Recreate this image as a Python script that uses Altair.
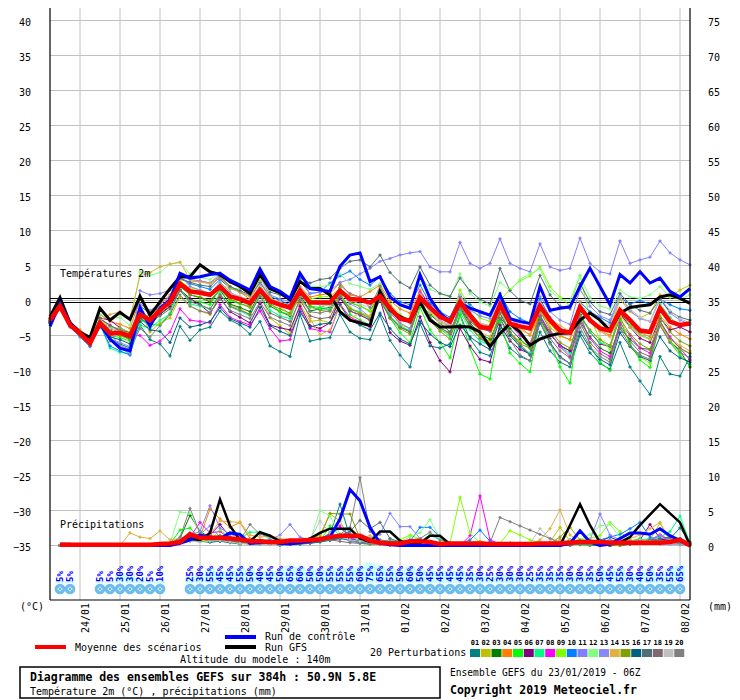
import altair as alt
import pandas as pd

# ------------------------------------------------------------------ data
DATE_LABELS = ["24/01", "25/01", "26/01", "27/01", "28/01", "29/01", "30/01", "31/01",
               "01/02", "02/02", "03/02", "04/02", "05/02", "06/02", "07/02", "08/02"]
DATE_HOURS = [18 + 24 * n for n in range(len(DATE_LABELS))]
Y_TICKS = list(range(-35, 45, 5))
PRECIP_BASE = -35  # 0 mm sits on the -35 degC line, right axis = left + 35

PERT_NAMES = ["01", "02", "03", "04", "05", "06", "07", "08", "09", "10",
              "11", "12", "13", "14", "15", "16", "17", "18", "19", "20"]
PERT_COLORS = ["#008080", "#c0c000", "#008000", "#ff8000", "#00ff00", "#800080", "#00ff80", "#ff00ff",
               "#80ff00", "#0080ff", "#8080ff", "#80ff80", "#8888f8", "#e0b040", "#80a000", "#006080",
               "#507078", "#806870", "#c0c0c0", "#808080"]

# temperatures 2m (degC), every 6 h from 23/01 06Z (65 values)
MEAN_T = [-2.8, -0.8, -3.5, -4.7, -6.1, -3.2, -4.7, -4.6, -5.1, -2.0, -2.8, -1.4, -0.2,
          2.4, 1.3, 1.1, 0.8, 2.0, 0.6, 0.2, -0.4, 1.5, -0.1, -0.6, -1.0, 1.4, -0.3, -0.3, -0.3,
          1.4, 0.2, 0.1, -0.3, 0.6, -1.1, -2.6, -2.9, 0.4, -1.0, -2.3, -3.0, -0.2, -2.1, -3.8, -4.0,
          -0.6, -3.3, -3.7, -4.0, -0.8, -2.8, -4.3, -4.6, -1.0, -2.8, -4.0, -4.3, -1.4, -2.8, -4.3, -4.5,
          -1.1, -3.0, -3.5, -3.3]
CTRL_T = [-3.7, -0.4, -3.2, -4.7, -6.1, -3.3, -5.5, -6.8, -7.2, -1.0, -3.7, -1.1, 0.1,
          3.9, 3.2, 3.4, 3.7, 3.9, 2.9, 2.2, 1.5, 4.5, 2.0, 1.3, 0.3, 3.9, 1.7, 1.5, 1.3,
          4.9, 6.5, 6.8, 2.7, 3.4, 0.5, -0.6, -1.1, 3.7, 0.3, -1.8, -3.0, -0.4, -1.1, -1.6, -2.1,
          0.8, -2.6, -3.0, -3.3, 2.0, -1.4, -1.1, -0.9, 2.0, 4.6, 2.0, -0.6, 3.7, 2.5, 4.1, 2.5,
          3.2, 1.3, 0.5, 1.7]
GFS_T = [-2.3, 0.4, -3.2, -4.5, -5.3, -1.1, -2.8, -1.7, -2.7, 0.6, -2.1, -0.2, 1.7,
         3.4, 3.4, 5.1, 4.1, 3.7, 2.7, 2.0, 1.0, 3.7, 1.7, 1.1, 0.1, 2.7, 1.7, 1.7, 0.8,
         -1.6, -2.8, -3.2, -3.6, 1.3, -1.4, -2.3, -3.0, -0.2, -2.8, -3.8, -3.8, -3.7, -3.8, -4.5, -6.6,
         -4.7, -3.3, -4.5, -6.4, -5.5, -5.0, -4.7, -4.6, -2.8, -1.8, -2.8, -4.3, -1.8, -1.0, -0.8, -0.6,
         0.5, 0.8, 0.3, -0.4]
PERT_T = {
    "01": [-3.2, -0.9, -3.6, -5.0, -6.5, -3.8, -5.5, -6.2, -6.8, -3.5, -5.6, -6.2, -7.9, -3.7, -5.7, -4.2, -3.8,
           -1.5, -2.8, -3.5, -4.8, -3.0, -6.5, -7.3, -8.0, -2.0, -5.8, -5.5, -5.3, -2.0, -4.5, -5.4, -5.6,
           -2.1, -5.7, -7.8, -9.5, -3.3, -6.5, -6.8, -6.2, -2.0, -5.5, -7.4, -7.9, -4.0, -6.8, -8.0, -8.6,
           -4.5, -7.2, -8.8, -9.5, -5.0, -7.5, -9.0, -9.8, -6.0, -9.5, -11.5, -13.4, -8.0, -10.5, -10.8, -8.0],
    "02": [-2.6, -0.6, -3.3, -4.5, -5.9, -2.8, -4.0, -4.2, -4.8, -1.5, -4.5, -3.2, -2.5, 0.5, -0.8, -1.5, -2.0,
           0.8, -0.6, -1.2, -2.0, 0.9, -2.5, -3.6, -4.8, -0.5, -3.0, -2.8, -3.2, 0.8, -1.0, -1.8, -2.2,
           1.2, -1.6, -3.4, -4.0, 0.2, -2.5, -4.2, -4.8, -1.0, -3.6, -5.2, -5.8, -1.8, -4.6, -5.9, -6.5,
           -1.2, -3.8, -5.1, -5.6, -0.8, -2.6, -3.8, -4.2, 0.2, -1.6, -2.5, -1.8, 0.8, 0.5, 1.5, 2.2],
    "03": [-2.9, -0.7, -3.4, -4.8, -6.2, -3.0, -4.2, -4.9, -5.5, -2.6, -3.5, -2.0, -0.9, 2.2, 0.8, 0.4, -0.2,
           1.5, -0.5, -1.0, -1.6, 1.2, -0.8, -1.6, -2.2, 0.8, -1.5, -1.2, -1.0, 1.8, -0.3, -0.8, -1.5,
           1.0, -2.2, -3.8, -4.5, -0.5, -2.0, -3.2, -4.5, -1.0, -3.2, -4.8, -5.5, -2.5, -4.0, -5.5, -6.8,
           -2.8, -4.8, -6.5, -7.2, -3.0, -5.2, -6.8, -7.5, -4.0, -5.5, -6.8, -7.0, -3.5, -5.8, -7.2, -9.5],
    "04": [-2.5, -0.5, -3.1, -4.2, -5.5, -2.0, -3.0, -3.4, -4.0, 0.2, -1.6, -0.5, 0.8, 3.0, 2.6, 2.8, 2.5,
           3.5, 2.0, 1.2, 0.2, 2.6, 0.4, -0.4, -1.2, 2.0, 0.5, 0.8, 1.0, 2.5, 0.8, 0.5, 1.3,
           2.2, 0.0, -1.2, -1.8, 1.5, -0.8, -2.0, -2.6, 0.5, -1.8, -3.4, -3.6, -0.2, -2.5, -3.8, -5.0,
           -1.8, -3.2, -5.0, -5.6, -1.5, -3.0, -4.2, -5.0, -2.0, -3.5, -4.6, -5.2, -2.2, -3.8, -4.8, -5.5],
    "05": [-3.0, -0.9, -3.7, -5.0, -6.4, -3.6, -5.0, -5.3, -5.8, -2.8, -3.4, -3.5, -1.8, 1.6, 0.0, -0.2, -0.6,
           1.7, 0.0, -0.5, -0.8, 1.8, -0.4, -1.6, -2.0, 1.5, -0.8, -1.0, -0.5, 1.2, -2.0, -2.8, -3.5,
           0.5, -2.5, -4.6, -6.0, -1.0, -4.2, -6.0, -8.2, -2.0, -6.8, -10.5, -11.2, -3.0, -7.5, -9.0, -10.2,
           -2.5, -6.0, -9.5, -11.8, -1.5, -6.5, -8.8, -10.0, -2.8, -6.2, -8.5, -9.6, -2.8, -6.0, -7.8, -9.2],
    "06": [-3.1, -0.8, -3.5, -4.9, -6.0, -2.5, -2.8, -3.9, -4.6, -1.8, -2.9, -1.9, -0.8, 1.5, 0.3, -0.6, -1.8,
           0.4, -1.6, -2.4, -3.2, -0.4, -3.5, -3.9, -4.2, -0.8, -3.6, -4.0, -3.2, 0.3, -1.5, -2.1, -2.8,
           0.2, -4.6, -5.8, -6.4, -2.3, -6.0, -8.6, -10.2, -4.0, -6.5, -8.4, -8.8, -3.5, -5.8, -7.0, -7.6,
           -2.2, -4.8, -6.4, -7.2, -2.0, -4.5, -6.2, -6.6, -1.8, -3.8, -5.4, -6.0, -2.5, -4.2, -3.8, -4.5],
    "07": [-2.7, -0.5, -3.2, -4.6, -6.0, -3.4, -6.8, -7.4, -7.6, -3.5, -4.0, -2.8, -2.0, 1.8, -0.5, -0.8, -1.2,
           1.0, -0.9, -1.5, -2.2, 1.0, -1.4, -2.2, -2.6, 1.2, -1.0, -1.2, -1.3, 1.0, -1.2, -1.6, -2.5,
           0.8, -2.2, -3.6, -4.3, 0.5, -2.6, -4.0, -5.2, -1.6, -4.2, -5.8, -6.4, -1.2, -4.6, -6.6, -7.5,
           -2.0, -4.6, -6.6, -7.6, -1.8, -4.5, -6.0, -6.5, -1.5, -3.6, -4.8, -5.5, -0.5, -2.4, -3.6, -3.2],
    "08": [-2.8, -0.7, -3.4, -4.6, -5.9, -2.6, -3.5, -4.4, -4.9, -5.0, -6.4, -5.8, -4.5, -1.2, -2.8, -3.0, -3.2,
           -0.6, -2.4, -3.0, -3.5, -1.5, -4.0, -5.8, -5.6, -1.2, -4.0, -4.3, -4.5, -0.5, -2.4, -3.0, -3.8,
           1.5, -0.8, -2.2, -3.0, 1.2, -0.5, -2.5, -2.8, -0.6, -2.8, -3.5, -4.2, -0.5, -3.5, -5.0, -6.2,
           -2.2, -4.5, -6.6, -8.0, -2.5, -5.4, -7.2, -8.0, -3.2, -5.0, -6.8, -7.5, -3.0, -5.2, -6.8, -8.5],
    "09": [-2.6, -0.6, -3.3, -4.5, -5.8, -2.7, -3.8, -4.0, -4.5, -1.6, -2.5, -1.6, -0.4, 2.8, 1.8, 1.5, 1.0,
           2.4, 1.6, 1.8, 1.2, 2.8, 0.4, -0.6, -1.0, 1.6, 0.2, 0.5, 0.6, 1.7, -0.2, -0.8, -1.5,
           1.8, -0.5, -2.0, -2.8, 0.8, -1.5, -3.0, -3.5, 1.5, -1.0, -2.5, -3.0, 0.0, 1.6, 2.8, 3.5,
           4.8, 2.0, 0.5, -0.8, 3.6, -2.5, -5.5, -7.0, -2.0, -6.5, -8.0, -9.0, -3.0, -5.8, -7.0, -7.5],
    "10": [-3.3, -1.0, -3.8, -5.2, -6.6, -3.4, -6.5, -7.2, -7.8, -2.4, -3.6, -1.6, 0.0, 3.2, 2.4, 2.0, 1.6,
           3.0, 1.8, 1.2, 0.6, 2.6, 0.6, 0.0, -0.6, 2.8, 1.0, 1.2, 2.5, 3.5, 4.2, 3.0, 2.2,
           3.4, 1.0, -0.2, -0.6, 2.2, -0.4, -1.6, -2.4, 0.6, -0.6, -1.8, -2.2, 1.0, -1.6, -2.6, -3.2,
           0.2, -2.4, -4.0, -4.4, -0.2, -1.6, -2.4, -3.2, 0.4, -0.5, 0.0, -0.5, 0.2, -0.6, -1.2, -1.4],
    "11": [-2.9, -0.6, -3.4, -4.6, -6.0, -3.0, -4.4, -6.8, -7.6, 1.4, 0.8, 1.0, 1.5, 3.4, 3.0, 2.8, 2.5,
           3.8, 2.6, 2.0, 1.2, 3.4, 0.8, 0.2, -0.2, 3.0, 1.0, 1.2, 1.4, 2.6, 3.0, 3.8, 4.6,
           5.6, 6.0, 6.5, 6.8, 7.0, 4.8, 4.1, 4.1, 8.3, 5.3, 4.6, 5.3, 8.8, 5.3, 4.6, 4.1,
           8.1, 4.8, 4.3, 4.6, 8.9, 5.3, 4.1, 3.8, 8.5, 5.3, 5.8, 6.2, 8.5, 6.8, 5.8, 5.1],
    "12": [-2.6, -0.5, -3.0, -4.4, -5.8, -2.0, -2.6, -2.4, -3.6, 4.1, 3.6, 4.0, 5.2, 5.4, 3.8, 3.3, 3.0,
           4.0, 2.8, 2.2, 1.6, 3.2, 1.5, 1.0, 0.6, 3.5, 2.0, 2.0, 2.2, 3.8, 2.4, 2.0, 1.6,
           2.4, 0.6, -0.8, -1.2, 3.6, 1.6, 1.0, 0.5, 3.8, 1.0, -0.2, -0.8, 2.6, 1.4, 3.0, 3.8,
           4.5, 1.4, 0.2, 0.0, 3.5, 0.4, -0.8, -1.2, 1.5, 0.5, 0.3, 0.8, 2.0, 0.5, 0.2, 0.8],
    "13": [-3.0, -0.4, -3.5, -4.9, -6.3, -3.1, -5.5, -6.0, -6.6, -0.5, -1.4, -0.6, 0.6, 3.6, 2.0, 1.5, 1.0,
           2.6, 1.2, 0.4, -0.2, 2.2, 0.0, -0.5, -1.2, 1.8, -0.2, -0.6, -0.4, 1.5, -0.5, -1.2, -2.4,
           0.6, -1.8, -3.2, -4.0, 1.0, -1.2, -2.8, -3.8, 0.8, -1.4, -2.2, -2.6, 0.4, -2.4, -3.6, -4.0,
           0.6, -1.6, -2.8, -3.4, 1.6, -0.8, -2.2, -2.8, 0.6, -1.4, -2.6, -3.0, 0.2, -1.8, -2.8, -3.4],
    "14": [-2.4, -0.3, -3.0, -4.3, -5.5, -2.8, -2.0, -1.6, -2.5, 3.5, 4.0, 4.8, 5.2, 5.5, 3.0, 2.6, 2.4,
           3.2, 1.8, 1.2, 0.6, 2.8, 0.6, -0.8, -2.0, 0.4, -2.6, -4.9, -4.2, -0.8, -2.6, -1.8, -2.2,
           1.5, -0.6, -2.4, -3.0, 0.8, -1.8, -3.2, -3.6, -0.5, -2.8, -4.5, -5.2, -1.0, -3.0, -4.2, -4.8,
           -0.5, -2.5, -3.6, -4.4, -0.2, -2.8, -4.4, -5.2, -2.2, -3.8, -5.0, -5.6, -3.5, -5.5, -6.4, -7.2],
    "15": [-2.7, -0.8, -3.4, -4.7, -6.0, -3.2, -4.6, -5.0, -5.6, -2.4, -2.0, -1.2, -0.5, 2.0, 0.8, 0.5, 0.0,
           1.6, 0.2, -0.4, -1.0, 1.4, -0.6, -1.2, -1.8, 1.0, -0.8, -1.4, -1.6, 0.8, -1.2, -1.8, -2.6,
           0.2, -2.6, -4.0, -4.8, 0.0, -2.8, -4.4, -5.5, -1.2, -3.8, -5.4, -6.2, -1.8, -4.8, -6.2, -6.8,
           -1.5, -4.2, -6.0, -6.8, -2.2, -4.2, -5.6, -6.4, -2.6, -4.8, -6.2, -7.0, -2.4, -4.5, -5.8, -6.5],
    "16": [-3.1, -0.9, -3.6, -4.9, -6.3, -3.5, -5.2, -5.6, -6.2, -3.0, -4.2, -4.4, -6.0, -2.5, -3.8, -3.5, -3.0,
           -1.0, -2.6, -3.2, -3.8, -1.0, -3.6, -4.4, -5.0, -1.6, -3.8, -3.4, -3.2, -0.6, -2.8, -3.5, -4.2,
           -1.8, -4.0, -5.5, -6.2, -3.0, -4.8, -6.0, -6.6, -3.5, -5.2, -6.2, -7.0, -2.6, -5.0, -6.6, -7.8,
           -3.2, -6.0, -8.0, -9.0, -4.5, -6.8, -8.4, -9.2, -4.6, -6.6, -8.0, -8.6, -5.2, -7.2, -8.2, -8.8],
    "17": [-2.8, -0.6, -3.3, -4.6, -5.9, -2.6, -3.6, -4.2, -4.6, -0.8, -1.8, -1.0, 0.4, 3.2, 2.6, 2.2, 2.0,
           3.4, 2.0, 1.4, 0.8, 3.6, 1.2, 0.8, 0.2, 3.2, 2.5, 3.0, 3.2, 4.6, 5.6, 5.8, 4.8,
           6.5, 4.0, 2.6, 1.8, 4.8, 2.2, 1.0, 0.6, 3.2, 1.4, 0.2, -0.5, 4.6, 1.4, 0.0, -0.5,
           3.6, 0.8, -0.8, -1.2, 2.4, -0.2, -1.6, -2.0, 1.0, -0.6, -1.4, -1.8, 0.2, -1.6, -2.4, -2.8],
    "18": [-3.0, -0.8, -3.5, -4.8, -6.1, -3.0, -4.0, -4.5, -5.0, -1.9, -3.0, -2.2, -1.2, 1.4, -0.2, -0.6, -1.2,
           0.8, -0.8, -1.4, -2.0, 0.6, -1.8, -2.4, -3.0, 0.0, -2.2, -2.6, -2.4, 0.5, -1.5, -2.0, -2.8,
           0.0, -2.4, -3.8, -4.4, -0.4, -2.4, -3.8, -4.8, -0.8, -3.0, -4.0, -4.4, -1.8, -4.5, -6.2, -7.8,
           -2.4, -5.4, -7.2, -8.2, -3.2, -6.0, -7.6, -8.4, -3.5, -5.8, -7.4, -8.0, -3.0, -5.4, -6.8, -7.6],
    "19": [-2.7, -0.7, -3.2, -4.4, -5.7, -2.9, -4.0, -4.4, -5.2, -1.5, -2.8, -1.5, 0.0, 2.6, 1.6, 1.2, 0.8,
           2.2, 1.0, 0.6, 0.0, 2.0, 0.2, -0.2, -0.8, 1.6, -0.2, -0.6, -0.8, 1.4, 0.0, -0.5, -1.0,
           1.2, -1.0, -2.4, -2.8, 0.4, -1.6, -3.0, -3.4, 0.8, -2.0, -3.2, -3.6, 0.2, -2.6, -3.8, -4.2,
           -0.2, -3.0, -4.6, -5.0, -0.6, -1.8, -3.0, -3.5, 0.5, -1.2, -2.4, -3.0, 0.4, -1.4, -2.6, -3.2],
    "20": [-3.2, -0.9, -3.7, -5.1, -6.4, -3.3, -5.8, -6.4, -7.0, -4.0, -5.2, -3.6, -2.0, 0.8, -0.8, -1.5, -1.8,
           0.2, -1.4, -2.0, -2.6, -0.2, -2.4, -3.0, -3.6, 0.4, -1.6, -1.8, -1.4, 2.2, 1.0, 0.5, -1.0,
           2.0, -0.8, -2.4, -3.2, 0.2, -2.6, -4.0, -4.6, -1.2, -3.6, -5.4, -6.4, -2.6, -5.6, -7.8, -8.6,
           -3.0, -6.2, -8.2, -9.0, -3.8, -6.6, -8.0, -8.8, -4.0, -6.4, -7.8, -8.4, -3.6, -6.0, -7.4, -8.2],
}

# precipitation (mm per 6 h), from 23/01 12Z (64 values)
MEAN_P = [0.1, 0.1, 0.1, 0.1, 0.1, 0.1, 0.1, 0.1, 0.1, 0.1, 0.2, 0.3,
          0.5, 1.6, 1.1, 1.1, 1.1, 1.0, 0.9, 0.6, 0.6, 0.5, 0.5, 0.7, 0.7, 0.8, 0.9, 1.2,
          1.4, 1.4, 1.4, 0.7, 0.4, 0.3, 0.3, 0.6, 0.6, 0.5, 0.2, 0.3, 0.3, 0.3, 0.3, 0.2,
          0.2, 0.2, 0.2, 0.2, 0.3, 0.3, 0.3, 0.4, 0.5, 0.5, 0.5, 0.4, 0.4, 0.4, 0.4, 0.4,
          0.4, 0.5, 0.8, 0.0]
CTRL_P = [0, 0, 0, 0, 0, 0, 0, 0, 0, 0, 0, 0,
          0.3, 0.8, 1.5, 1.2, 1.0, 1.8, 1.6, 0.3, 0.4, 0.6, 0.3, 0.2, 0.4, 0.6, 0.8, 1.2,
          3.8, 8.0, 6.4, 2.6, 0.3, 0.1, 0.0, 0.0, 0, 0, 0, 0, 0, 0, 0, 0,
          0, 0, 0, 0, 0, 0, 0, 0.3, 2.1, 0.5, 0.0, 0.2, 1.0, 1.8, 1.8, 1.6,
          2.4, 1.4, 0.7, 0.0]
GFS_P = [0.2, 0.2, 0, 0, 0, 0, 0, 0, 0, 0, 0, 0.2,
         0.5, 1.0, 0.8, 1.8, 6.6, 2.8, 0.8, 0.6, 1.9, 1.4, 0.6, 0.3, 0.5, 1.0, 1.8, 2.4,
         2.4, 2.4, 1.0, 0.5, 2.0, 2.0, 0.7, 0.2, 0.3, 1.4, 1.4, 0.2, 0.1, 0, 0, 0,
         0, 0, 0, 0, 0, 0, 0, 2.9, 5.9, 2.9, 0.4, 0.2, 0.4, 1.2, 2.9, 4.4,
         5.9, 4.6, 3.3, 0.0]
PERT_P = {
    "01": [0, 0, 0, 0, 0, 0, 0, 0, 0, 0, 0, 0, 0.4, 0.8, 0.6, 0.5,
           0.6, 0.4, 0.2, 0.5, 0.3, 0.2, 0.1, 0.2, 0.3, 0.6, 1.0, 1.6, 5.9, 1.2, 0.5, 0.6,
           0.4, 0.2, 0.1, 0, 0, 0.2, 0.1, 0, 0, 0, 0, 0, 0, 0, 0, 0,
           0, 0, 0, 0, 0.3, 0.2, 0, 0, 0, 0.2, 0.4, 0.6, 0.8, 1.0, 2.5, 0.5],
    "02": [0, 0, 0, 0, 0, 0, 0, 0, 0, 0, 0, 0.1, 0.6, 1.2, 0.8, 0.6,
           0.8, 0.5, 0.3, 0.2, 0.4, 0.3, 0.2, 0.4, 0.6, 0.8, 1.5, 4.5, 3.5, 0.8, 0.4, 0.2,
           0.2, 0.1, 0, 0, 0, 0, 0, 0, 0, 0, 0.2, 0.1, 0, 0, 0, 0,
           0, 0.5, 2.6, 0.6, 0.2, 0.1, 0, 0, 0.1, 0.3, 0.5, 0.8, 3.2, 0.6, 0.3, 0.1],
    "03": [0, 0, 0, 0, 0, 0, 0, 0, 0, 0, 0, 0.2, 1.0, 4.3, 2.0, 1.2,
           1.4, 0.8, 0.5, 0.4, 0.6, 0.5, 0.2, 0.3, 0.3, 0.5, 0.8, 1.0, 1.4, 0.8, 0.6, 0.4,
           0.5, 0.3, 0.2, 0.1, 0, 0, 0, 0, 0, 0, 0, 0, 0, 0, 0, 0,
           0, 0, 0.5, 0.8, 0.4, 0.2, 0.1, 0, 0, 0.2, 0.4, 0.6, 0.5, 0.8, 1.0, 0.2],
    "04": [0, 0, 0, 0, 0, 0, 0, 0, 0, 0, 0.1, 0.3, 0.8, 1.6, 1.2, 5.2,
           3.8, 2.6, 3.3, 1.0, 0.8, 0.6, 0.4, 0.5, 0.6, 0.5, 0.8, 1.2, 1.5, 1.2, 1.4, 1.0,
           0.6, 0.4, 0.2, 0.1, 0, 0.2, 0.4, 0.3, 0.2, 0.4, 0.6, 0.3, 0.1, 0, 0, 0,
           0, 0.3, 0.8, 0.5, 0.3, 0.2, 0.1, 0, 0, 0.4, 0.9, 0.6, 0.4, 0.8, 0.5, 0.1],
    "05": [0, 0, 0, 0, 0, 0, 0, 0, 0, 0, 0, 0.2, 2.2, 2.5, 1.0, 0.8,
           1.2, 0.6, 0.4, 0.5, 0.4, 0.3, 0.1, 0.2, 0.3, 0.4, 0.6, 2.8, 1.4, 0.8, 0.3, 0.2,
           0.3, 0.2, 0.1, 0, 0, 0, 0, 0, 0, 0, 0.3, 0.2, 0, 0, 0, 0,
           0, 0, 0.2, 0.3, 0.1, 0, 0, 0, 0.2, 0.6, 1.0, 0.4, 0.6, 0.4, 0.3, 0.1],
    "06": [0, 0, 0, 0, 0, 0, 0, 0, 0, 0, 0, 0.1, 0.5, 1.0, 0.8, 1.5,
           3.0, 1.2, 0.6, 0.4, 0.3, 0.2, 0.2, 0.3, 0.4, 0.6, 0.6, 0.8, 1.2, 1.0, 0.5, 0.4,
           0.2, 0.1, 0, 0, 0, 0, 0, 0, 0, 0, 0, 0, 0, 0, 0, 0,
           0, 0, 0, 0.2, 0.4, 0.3, 0.6, 1.2, 0.6, 0.4, 0.8, 3.0, 1.0, 0.6, 0.4, 0.1],
    "07": [0, 0, 0, 0, 0, 0, 0, 0, 0, 0, 0, 0.2, 0.6, 1.4, 1.0, 0.8,
           0.6, 0.8, 1.0, 1.9, 1.9, 0.8, 0.4, 0.3, 0.2, 0.4, 0.5, 0.7, 1.0, 0.8, 0.4, 0.5,
           0.6, 0.8, 0.5, 0.4, 0.6, 1.5, 0.8, 0.4, 0.2, 0.1, 0, 0, 0, 0, 0, 0,
           0, 0, 0.2, 0.5, 0.3, 0.4, 0.6, 0.8, 0.5, 0.6, 0.8, 1.0, 1.2, 2.0, 4.2, 0.3],
    "08": [0, 0, 0, 0, 0, 0, 0, 0, 0, 0, 0, 0.1, 0.5, 1.2, 3.3, 1.8,
           2.0, 1.0, 0.6, 0.4, 0.3, 0.2, 0.2, 0.3, 0.3, 0.4, 0.6, 1.6, 2.8, 1.0, 0.5, 0.3,
           0.3, 0.2, 0.1, 0, 0, 0.2, 0.4, 0.1, 0, 1.4, 7.1, 0.8, 0.2, 0, 0, 0,
           0, 0, 0, 0.2, 0.3, 0.2, 0.1, 0, 0.3, 0.4, 0.6, 0.8, 1.5, 0.6, 0.5, 0.2],
    "09": [0, 0, 0, 0, 0, 0, 0, 0, 0, 0, 0, 0.1, 0.4, 0.8, 0.6, 0.8,
           2.2, 1.2, 0.5, 0.3, 0.4, 0.3, 0.1, 0.2, 0.3, 0.5, 0.8, 1.0, 1.2, 0.8, 0.5, 0.4,
           0.3, 0.5, 0.8, 1.5, 0.9, 0.4, 0.2, 0.3, 6.9, 1.8, 0.4, 0.2, 0.3, 2.1, 1.5, 0.8,
           0.4, 0.3, 0.2, 0.5, 0.8, 1.0, 1.4, 3.3, 2.0, 0.8, 0.6, 0.4, 0.5, 0.4, 0.2, 0.1],
    "10": [0, 0, 0, 0, 0, 0, 0, 0, 0, 0, 0, 0.2, 0.8, 1.0, 1.2, 1.4,
           1.0, 1.2, 0.8, 0.6, 0.4, 0.3, 0.2, 0.3, 0.5, 0.6, 0.8, 1.8, 2.4, 1.6, 1.0, 0.6,
           0.4, 0.3, 0.2, 0.6, 2.6, 2.6, 1.2, 0.4, 0.2, 0.8, 2.2, 0.6, 0.2, 0, 0, 0,
           0, 0, 0, 0.2, 0.4, 0.6, 0.8, 1.2, 1.6, 2.4, 3.3, 1.2, 0.6, 0.8, 0.4, 0.2],
    "11": [0, 0, 0, 0, 0, 0, 0, 0, 0, 0, 0, 0.2, 0.8, 1.5, 2.0, 5.7,
           2.5, 1.6, 1.2, 0.8, 0.6, 0.8, 1.5, 3.0, 1.2, 0.8, 0.6, 0.8, 1.0, 1.2, 0.8, 1.0,
           1.6, 4.6, 2.7, 2.7, 1.0, 0.4, 0.2, 0.1, 0, 0, 0, 0, 0, 0, 0, 0,
           0, 0, 0, 0.2, 0.5, 0.8, 4.5, 1.5, 0.8, 0.6, 0.4, 0.3, 0.2, 0.2, 0.1, 0],
    "12": [0, 0, 0, 0, 0, 0, 0, 0, 0, 0, 0, 0.3, 4.8, 4.6, 1.8, 1.2,
           1.0, 0.6, 0.4, 0.3, 0.4, 0.3, 0.2, 0.3, 0.4, 0.6, 5.0, 4.2, 1.6, 0.8, 0.4, 0.3,
           0.2, 0.2, 0.6, 1.2, 1.8, 3.7, 1.0, 0.4, 0.2, 0.1, 0, 0, 0, 0, 0, 0,
           0, 0, 0.2, 0.4, 0.8, 1.6, 2.8, 3.0, 1.2, 0.8, 0.5, 0.6, 0.4, 0.3, 0.2, 0.1],
    "13": [0, 0, 0, 0, 0, 0, 0, 0, 0, 0, 0, 0.1, 0.6, 1.2, 1.6, 2.8,
           1.2, 0.8, 0.6, 0.4, 0.4, 0.6, 0.3, 0.2, 0.4, 0.8, 1.0, 1.4, 1.2, 0.6, 0.4, 0.3,
           0.4, 0.6, 0.5, 0.3, 0.2, 0.1, 0, 0, 0, 0, 0, 0, 0, 0, 0, 0,
           0, 0.1, 0.2, 0.4, 0.3, 0.2, 0.6, 0.8, 0.5, 0.4, 0.6, 0.8, 1.6, 0.8, 0.4, 0.2],
    "14": [0, 0, 0, 0, 0, 0, 0, 1.8, 1.2, 1.0, 2.1, 0.8, 1.0, 1.4, 1.2, 1.6,
           3.5, 3.4, 3.3, 1.5, 1.2, 1.4, 1.0, 0.8, 0.6, 0.8, 1.0, 1.2, 1.6, 1.2, 1.0, 1.4,
           0.8, 0.5, 0.3, 0.2, 0.1, 0, 0, 0.3, 0.2, 0, 0, 0, 0.2, 0.4, 0.3, 0.1,
           0.8, 2.4, 5.1, 1.5, 0.6, 0.4, 0.5, 0.3, 0.8, 1.0, 1.5, 2.4, 3.3, 0.8, 0.6, 0.2],
    "15": [0, 0, 0, 0, 0, 0, 0, 0, 0, 0, 0, 0.1, 0.5, 0.8, 1.0, 0.6,
           0.8, 0.6, 0.4, 0.3, 0.5, 0.4, 0.2, 0.3, 0.4, 0.6, 1.2, 4.6, 4.5, 4.5, 1.0, 0.6,
           0.4, 0.3, 0.2, 0.1, 0, 0, 0, 0, 0, 0, 0, 0, 0, 0, 0, 0,
           0, 0.3, 1.2, 2.6, 0.8, 0.4, 0.2, 0.1, 0.2, 0.4, 0.6, 0.8, 0.6, 0.4, 0.3, 0.1],
    "16": [0, 0, 0, 0, 0, 0, 0, 0, 0, 0, 0, 0.1, 0.4, 0.8, 0.6, 0.5,
           0.6, 0.5, 0.4, 0.3, 0.2, 0.2, 0.1, 0.2, 0.2, 0.3, 0.5, 0.8, 1.0, 0.8, 0.5, 0.4,
           0.3, 0.2, 0.1, 0, 0, 0, 0, 0, 0, 0, 0, 0, 0, 0, 0, 0,
           0, 0, 0.2, 0.3, 0.2, 0.1, 0, 0, 0.2, 0.4, 0.6, 0.5, 0.4, 0.6, 0.5, 0.1],
    "17": [0, 0, 0, 0, 0, 0, 0, 0, 0, 0, 0, 0.1, 0.6, 1.8, 1.2, 0.8,
           0.8, 0.6, 0.5, 0.4, 0.3, 0.4, 0.2, 0.3, 0.4, 0.5, 0.6, 0.8, 1.4, 2.0, 3.6, 2.4,
           3.3, 1.0, 0.5, 0.3, 0.2, 0.2, 0.1, 0, 0, 0, 0, 0, 0, 0, 0, 0,
           0, 0, 0.1, 0.2, 0.4, 0.3, 0.2, 0.1, 0.3, 0.5, 0.6, 0.8, 1.0, 1.2, 1.0, 0.3],
    "18": [0, 0, 0, 0, 0, 0, 0, 0, 0, 0, 0, 0.1, 0.4, 0.6, 0.8, 1.0,
           0.8, 0.6, 0.4, 0.2, 0.3, 0.2, 0.1, 0.2, 0.3, 0.4, 0.6, 0.8, 0.6, 0.4, 0.3, 0.2,
           0.2, 0.1, 0, 0, 0, 0, 0, 0, 0, 0, 0, 0, 0, 0, 0, 0,
           0, 0, 0, 0.1, 0.2, 0.3, 0.4, 0.2, 0.3, 0.4, 0.5, 0.4, 0.3, 0.4, 0.2, 0.1],
    "19": [0, 0, 0, 0, 0, 0, 0, 0, 0, 0, 0, 0.1, 0.3, 0.6, 0.5, 0.6,
           0.7, 0.5, 0.3, 0.2, 0.2, 0.1, 0.2, 0.3, 0.4, 0.8, 3.5, 1.8, 1.2, 0.8, 0.6, 0.4,
           0.3, 0.2, 0.1, 0, 0, 0, 0, 0, 0, 0, 0, 0, 0, 0, 0, 0.3,
           2.4, 1.0, 0.6, 0.8, 0.4, 0.2, 0.3, 0.5, 0.4, 0.6, 0.8, 0.6, 0.4, 0.3, 0.2, 0.1],
    "20": [0, 0, 0, 0, 0, 0, 0, 0, 0, 0, 0, 0.2, 1.2, 5.3, 1.8, 1.0,
           1.2, 1.0, 0.8, 3.0, 1.6, 1.2, 0.8, 0.6, 0.5, 0.6, 0.8, 1.2, 1.6, 2.6, 9.7, 2.0,
           0.8, 0.6, 0.4, 0.8, 1.0, 1.9, 0.8, 0.4, 0.2, 0.1, 0.2, 0.4, 4.0, 3.4, 2.8, 2.2,
           1.6, 1.0, 0.4, 0.3, 0.2, 0.1, 0.2, 0.3, 0.4, 0.6, 0.5, 0.4, 0.6, 0.5, 0.3, 0.1],
}

# probability of precipitation per 6 h step (None = no label)
PCT = [5, 5, None, None, 5, 5, 30, 30, 20, 5, 10, None, None,
       25, 30, 55, 45, 45, 55, 50, 40, 45, 50, 65, 60, 50, 50, 55, 55, 55, 60,
       75, 65, 55, 50, 60, 50, 45, 45, 45, 45, 35, 30, 25, 30, 30, 30, 25, 35, 35, 35,
       30, 30, 35, 50, 45, 55, 30, 40, 50, 35, 55, 65]

# ------------------------------------------------------------------ frames
temp_p = pd.DataFrame([{"s": n, "t": 6 * i, "v": v}
                       for n in PERT_NAMES for i, v in enumerate(PERT_T[n])])
prec_p = pd.DataFrame([{"s": n, "t": 6 * (i + 1), "v": PRECIP_BASE + v}
                       for n in PERT_NAMES for i, v in enumerate(PERT_P[n])])


def series(vals, offset=0, base=0.0):
    return pd.DataFrame({"t": [6 * (i + offset) for i in range(len(vals))],
                         "v": [base + v for v in vals]})


ctrl_t, gfs_t, mean_t = series(CTRL_T), series(GFS_T), series(MEAN_T)
ctrl_p = series(CTRL_P, 1, PRECIP_BASE)
gfs_p = series(GFS_P, 1, PRECIP_BASE)
mean_p = series(MEAN_P, 1, PRECIP_BASE)
pct_df = pd.DataFrame([{"t": 6 + 6 * k, "pct": p} for k, p in enumerate(PCT) if p is not None])

# ------------------------------------------------------------------ geometry
W, H = 640, 592          # plot area: page x 50..690, y 8..600
Y_MAX = (300.5 - 8) / 7.0
Y_MIN = (300.5 - 600) / 7.0
FONT = "DejaVu Sans Mono"

xs = alt.Scale(domain=[0, 384], nice=False, zero=False)
ys = alt.Scale(domain=[Y_MIN, Y_MAX], nice=False, zero=False)
X = alt.X("t:Q", scale=xs, axis=None)
Y = alt.Y("v:Q", scale=ys, axis=None)
col = alt.Color("s:N", scale=alt.Scale(domain=PERT_NAMES, range=PERT_COLORS), legend=None)
one = pd.DataFrame({"a": [0]})


def px(x):  # page x -> plot x
    return alt.value(x - 50)


def py(y):  # page y -> plot y
    return alt.value(y - 8)


def label(text, x, y, size=10, bold=False, color="black", align="left"):
    return alt.Chart(one).mark_text(text=text, font=FONT, fontSize=size, align=align,
                                    baseline="middle", color=color,
                                    fontWeight="bold" if bold else "normal").encode(x=px(x), y=py(y))


hgrid = alt.Chart(pd.DataFrame({"v": Y_TICKS})).mark_rule(color="#c0c0c0", strokeWidth=1).encode(
    y=Y, x=alt.value(0), x2=alt.value(W))
vgrid = alt.Chart(pd.DataFrame({"t": DATE_HOURS})).mark_rule(color="#c0c0c0", strokeWidth=1).encode(
    x=X, y=alt.value(0), y2=alt.value(H))
zero = alt.Chart(pd.DataFrame({"v": [2 / 7, -2 / 7]})).mark_rule(color="black", strokeWidth=1).encode(
    y=Y, x=alt.value(0), x2=alt.value(W))

pct_bar = alt.Chart(pct_df).transform_calculate(
    t0="datum.t - 3", t1="datum.t + 3",
    y0="-282.5 / 7", y1="(-282.5 + 0.27 * datum.pct) / 7"
).mark_rect(color="#c8ffff").encode(
    x=alt.X("t0:Q", scale=xs, axis=None), x2="t1:Q",
    y=alt.Y("y0:Q", scale=ys, axis=None), y2="y1:Q")
pct_dot = alt.Chart(pct_df).mark_circle(size=115, color="#6cbcec", opacity=1).encode(x=X, y=py(589))
pct_dot2 = alt.Chart(pct_df).mark_point(shape="cross", size=22, filled=True, color="#c8ecff",
                                        opacity=1).encode(x=X, y=py(589))
pct_dot3 = alt.Chart(pct_df).mark_point(shape="diamond", size=5, filled=True, color="#2f7fd8",
                                        opacity=1).encode(x=X, y=py(589))
pct_txt = alt.Chart(pct_df).transform_calculate(lab="datum.pct + '%'").mark_text(
    angle=270, align="left", baseline="middle", font=FONT, fontSize=9, fontWeight="bold",
    color="#0000ff").encode(x=X, y=py(582), text="lab:N")

pt_line = alt.Chart(temp_p).mark_line(strokeWidth=1).encode(x=X, y=Y, color=col)
pt_pts = alt.Chart(temp_p).mark_point(shape="cross", size=10, filled=True, opacity=1).encode(
    x=X, y=Y, color=col)
pp_line = alt.Chart(prec_p).mark_line(strokeWidth=1).encode(x=X, y=Y, color=col)
pp_pts = alt.Chart(prec_p).mark_point(shape="cross", size=10, filled=True, opacity=1).encode(
    x=X, y=Y, color=col)


def thick(df, color, w):
    return alt.Chart(df).mark_line(color=color, strokeWidth=w).encode(x=X, y=Y)


border_l = alt.Chart(one).mark_rule(color="black", strokeWidth=1.2).encode(
    x=alt.value(0), y=alt.value(0), y2=alt.value(H))
border_r = alt.Chart(one).mark_rule(color="black", strokeWidth=1.2).encode(
    x=alt.value(W), y=alt.value(0), y2=alt.value(H))
border_b = alt.Chart(one).mark_rule(color="black", strokeWidth=1.2).encode(
    y=alt.value(H), x=alt.value(0), x2=alt.value(W))

ylab_l = alt.Chart(pd.DataFrame({"v": Y_TICKS})).transform_calculate(lab="format(datum.v, 'd')").mark_text(
    font=FONT, fontSize=10, align="right", baseline="middle", dy=2).encode(y=Y, x=px(31), text="lab:N")
ylab_r = alt.Chart(pd.DataFrame({"v": Y_TICKS})).transform_calculate(
    lab="format(datum.v + 35, 'd')").mark_text(
    font=FONT, fontSize=10, align="left", baseline="middle", dy=2).encode(y=Y, x=px(708), text="lab:N")
dates = alt.Chart(pd.DataFrame({"t": DATE_HOURS, "lab": DATE_LABELS})).mark_text(
    font=FONT, fontSize=10, angle=270, align="right", baseline="top", dy=1).encode(
    x=X, y=py(603), text="lab:N")

sw = pd.DataFrame({"idx": list(range(20)), "lab": PERT_NAMES, "col": PERT_COLORS})
sw_rect = alt.Chart(sw).transform_calculate(
    a="420 + datum.idx * 10.75", b="430 + datum.idx * 10.75").mark_rect().encode(
    x=alt.X("a:Q", scale=None), x2="b:Q", y=py(649), y2=py(657),
    color=alt.Color("col:N", scale=None))
sw_txt = alt.Chart(sw).transform_calculate(a="425 + datum.idx * 10.75").mark_text(
    font=FONT, fontSize=7, fontWeight="bold", align="center", baseline="middle").encode(
    x=alt.X("a:Q", scale=None), y=py(643), text="lab:N")

leg_red = alt.Chart(one).mark_rule(color="#ff0000", strokeWidth=4).encode(x=px(35), x2=px(66), y=py(647))
leg_blue = alt.Chart(one).mark_rule(color="#0000ff", strokeWidth=4).encode(x=px(225), x2=px(256), y=py(637))
leg_black = alt.Chart(one).mark_rule(color="#000000", strokeWidth=4).encode(x=px(225), x2=px(256), y=py(647))
box = alt.Chart(one).mark_rect(fillOpacity=0, stroke="black", strokeWidth=1.5).encode(
    x=px(20), x2=px(440), y=py(667), y2=py(698))

texts = [
    label("Températures 2m", 60, 274),
    label("Précipitations", 60, 525),
    label("(°C)", 20, 607),
    label("(mm)", 708, 607),
    label("Moyenne des scénarios", 75, 648),
    label("Run de contrôle", 265, 637),
    label("Run GFS", 265, 648),
    label("Altitude du modele : 140m", 180, 660),
    label("20 Perturbations", 370, 653),
    label("Diagramme des ensembles GEFS sur 384h : 50.9N 5.8E", 30, 678, size=11.5, bold=True),
    label("Température 2m (°C) , précipitations (mm)", 30, 692),
    label("Ensemble GEFS du 23/01/2019 - 06Z", 450, 673, size=9.6),
    label("Copyright 2019 Meteociel.fr", 450, 691, size=11.5, bold=True),
]

chart = alt.layer(
    hgrid, vgrid, zero,
    pct_bar, pct_dot, pct_dot2, pct_dot3, pct_txt,
    pt_line, pt_pts,
    thick(gfs_t, "#000000", 3), thick(ctrl_t, "#0000ff", 3), thick(mean_t, "#ff0000", 4.5),
    pp_line, pp_pts,
    thick(gfs_p, "#000000", 2.5), thick(ctrl_p, "#0000ff", 3), thick(mean_p, "#ff0000", 4.5),
    border_l, border_r, border_b,
    ylab_l, ylab_r, dates,
    sw_rect, sw_txt, leg_red, leg_blue, leg_black, box,
    *texts,
).properties(
    width=W, height=H,
    padding={"left": 42, "top": 0, "right": 42, "bottom": 100},
    autosize=alt.AutoSizeParams(type="none"),
    background="white",
).configure_view(stroke=None)

chart.save("out.html", embed_options={"renderer": "svg", "actions": False})
